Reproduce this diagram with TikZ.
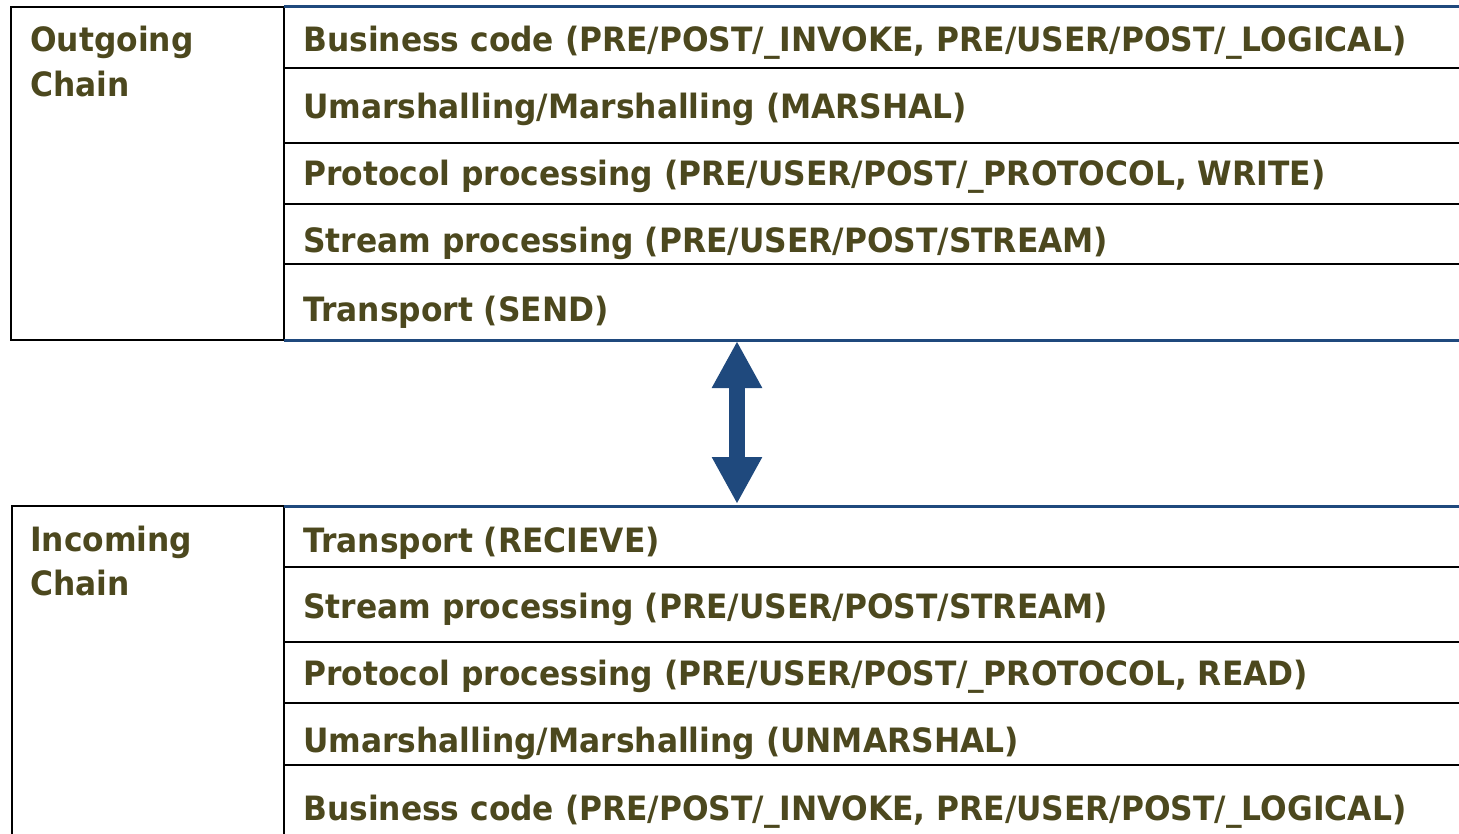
\documentclass[tikz,border=0pt]{standalone}
\usepackage{fontspec}
\newfontfamily\lab[FakeStretch=0.935]{DejaVu Sans}
\usetikzlibrary{arrows.meta}
\definecolor{olivetxt}{RGB}{76,72,30}
\definecolor{navyline}{RGB}{31,73,125}
\begin{document}
\begin{tikzpicture}[x=1pt,y=-1pt,
  txt/.style={anchor=base west,inner sep=0pt,text=olivetxt,font=\lab\bfseries\fontsize{33.5}{40}\selectfont},
  blk/.style={line width=2.6pt,black},
  blu/.style={line width=3pt,navyline},
  bothtips/.style={navyline,line width=16pt,{Triangle[width=47pt,length=47pt]}-{Triangle[width=47pt,length=47pt]}}]
\useasboundingbox (0,0) rectangle (1459,834);
% ---------- Outgoing chain ----------
\draw[blk] (284,7) -- (11,7) -- (11,340) -- (284,340);
\draw[blk] (284,7) -- (284,340);
\draw[blu] (284,7) -- (1459,7);
\draw[blu] (284,340) -- (1459,340);
\foreach \y in {68,143,204,264} \draw[blk] (284,\y) -- (1459,\y);
\node[txt] (outlab1) at (30,52) {Outgoing};
\node[txt] (outlab2) at (30,97) {Chain};
\node[txt] (o1) at (303,52) {Business code (PRE/POST/\_INVOKE, PRE/USER/POST/\_LOGICAL)};
\node[txt] (o2) at (303,119) {Umarshalling/Marshalling (MARSHAL)};
\node[txt] (o3) at (303,186) {Protocol processing (PRE/USER/POST/\_PROTOCOL, WRITE)};
\node[txt] (o4) at (303,253) {Stream processing (PRE/USER/POST/STREAM)};
\node[txt] (o5) at (303,321) {Transport (SEND)};
\coordinate (outBottom) at (737,341);
% ---------- Incoming chain ----------
\draw[blk] (284,506) -- (12,506) -- (12,834);
\draw[blk] (284,506) -- (284,834);
\draw[blu] (284,506) -- (1459,506);
\foreach \y in {567,642,703,765} \draw[blk] (284,\y) -- (1459,\y);
\node[txt] (inlab1) at (30,551) {Incoming};
\node[txt] (inlab2) at (30,595) {Chain};
\node[txt] (i1) at (303,552) {Transport (RECIEVE)};
\node[txt] (i2) at (303,618) {Stream processing (PRE/USER/POST/STREAM)};
\node[txt] (i3) at (303,685) {Protocol processing (PRE/USER/POST/\_PROTOCOL, READ)};
\node[txt] (i4) at (303,752) {Umarshalling/Marshalling (UNMARSHAL)};
\node[txt] (i5) at (303,820) {Business code (PRE/POST/\_INVOKE, PRE/USER/POST/\_LOGICAL)};
\coordinate (inTop) at (737,504);
% ---------- arrow ----------
\draw[bothtips] (outBottom) -- (inTop);
\end{tikzpicture}
\end{document}
